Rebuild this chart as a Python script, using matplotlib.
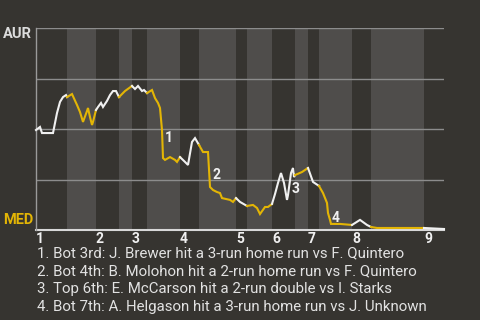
import matplotlib.pyplot as plt

# Win probability for AUR (percent) over game progress
progress = [0, 4, 6, 17, 21, 24, 27, 30, 31,
            36, 41, 44, 47, 51, 52, 54, 56, 57, 60,
            62, 65, 67, 71, 74, 77, 80, 83,
            89, 96,
            99, 102, 106, 108, 111,
            116, 119, 122, 124, 126, 127, 129, 134, 139, 141, 144,
            149, 152, 156, 159, 163,
            167, 172, 174, 177, 181, 184, 186, 194, 197, 200,
            204, 211,
            217, 221, 224, 229, 232, 236,
            239, 242, 245, 248, 251, 252, 255, 257, 258, 259,
            266, 272,
            277, 283,
            287, 291, 292, 294, 295, 304, 316,
            324, 331, 335,
            341, 388,
            408]
win_prob = [49.5, 51.0, 48.0, 48.0, 57.9, 63.4, 65.8, 66.8, 65.8,
            67.3, 61.9, 58.4, 53.5, 58.9, 60.4, 55.9, 52.0, 53.5, 59.4,
            60.9, 62.9, 60.9, 63.9, 66.8, 68.8, 68.8, 65.8,
            68.8, 71.3,
            69.8, 71.3, 68.8, 69.3, 67.8,
            69.3, 65.3, 62.9, 60.4, 49.5, 35.6, 34.7, 36.1, 34.7, 33.7, 36.1,
            33.7, 32.2, 43.6, 45.5, 42.1,
            38.6, 38.6, 21.3, 19.8, 18.8, 18.3, 15.8, 14.9, 13.9, 15.8,
            13.9, 11.9,
            12.4, 10.9, 7.9, 11.4, 11.4, 12.9,
            17.8, 23.3, 28.2, 23.3, 14.9, 17.3, 28.2, 30.7, 26.2, 27.2,
            28.7, 30.7,
            23.8, 21.8,
            18.3, 13.4, 8.4, 5.0, 3.0, 3.0, 2.5,
            5.0, 2.5, 1.5,
            1.0, 1.0,
            0.5]

# start of each half inning (top 1, bot 1, top 2, ...) and end of game
half_innings = [0, 31, 60, 83, 96, 111, 144, 163, 200, 211, 236, 259,
                272, 283, 316, 335, 388, 408]
innings = ['1', '2', '3', '4', '5', '6', '7', '8', '9']

# big plays
event_x = [129, 177, 256, 296]
event_p = [45.5, 27.0, 20.3, 5.9]
events = ['1. Bot 3rd: J. Brewer hit a 3-run home run vs F. Quintero',
          '2. Bot 4th: B. Molohon hit a 2-run home run vs F. Quintero',
          '3. Top 6th: E. McCarson hit a 2-run double vs I. Starks',
          '4. Bot 7th: A. Helgason hit a 3-run home run vs J. Unknown']

BG = '#363430'
BAND = '#4f4d4b'
YELLOW = '#e3b505'
WHITE = '#f0f0f0'

plt.rcParams['font.family'] = ['Roboto', 'DejaVu Sans']

fig = plt.figure(figsize=(4.8, 3.2), dpi=100, facecolor=BG)
ax = fig.add_axes([0.075, 0.28125, 0.85, 0.63125])
ax.set_facecolor(BG)
ax.set_xlim(0, half_innings[-1])
ax.set_ylim(0, 100)

# shade bottom halves
for i in range(len(half_innings) - 1):
    if i % 2 == 1:
        ax.axvspan(half_innings[i], half_innings[i + 1], color=BAND, lw=0, zorder=0)

for g in [25, 50, 75, 100]:
    ax.axhline(g, color='#8c8c8c', lw=1, zorder=1)
ax.axhline(0, color='#d8d8d8', lw=1.5, zorder=1, clip_on=False)

for s in ['top', 'right', 'bottom']:
    ax.spines[s].set_visible(False)
ax.spines['left'].set_color('#9a9a9a')
ax.spines['left'].set_linewidth(1)
ax.set_xticks([])
ax.set_yticks([])

# line coloured by which team is batting
for i in range(len(half_innings) - 1):
    a, b = half_innings[i], half_innings[i + 1]
    xs = [x for x in progress if a <= x <= b]
    ys = [p for x, p in zip(progress, win_prob) if a <= x <= b]
    ax.plot(xs, ys, color=YELLOW if i % 2 else WHITE, lw=1.5, zorder=3,
            solid_joinstyle='miter', clip_on=False)

for n, (x, p) in enumerate(zip(event_x, event_p)):
    ax.text(x, p, str(n + 1), color=WHITE, fontsize=10, fontweight='bold',
            ha='left', va='center', zorder=4)

for lab, x in zip(innings, half_innings[0:-1:2]):
    ax.text(x + 4, -1, lab, color=WHITE, fontsize=10, fontweight='bold',
            ha='center', va='top')

fig.text(3 / 480, 1 - 34.5 / 320, 'AUR', color='#dcdcdc', fontsize=10.5,
         fontweight='bold', ha='left', va='center')
fig.text(3 / 480, 1 - 219.5 / 320, 'MED', color=YELLOW, fontsize=10.5,
         fontweight='bold', ha='left', va='center')

for k, line in enumerate(events):
    fig.text(37 / 480, 1 - (253 + 18 * k) / 320, line, color='#e2e2e2',
             fontsize=10.8, ha='left', va='center')

fig.savefig('out.png', dpi=100, facecolor=BG)
